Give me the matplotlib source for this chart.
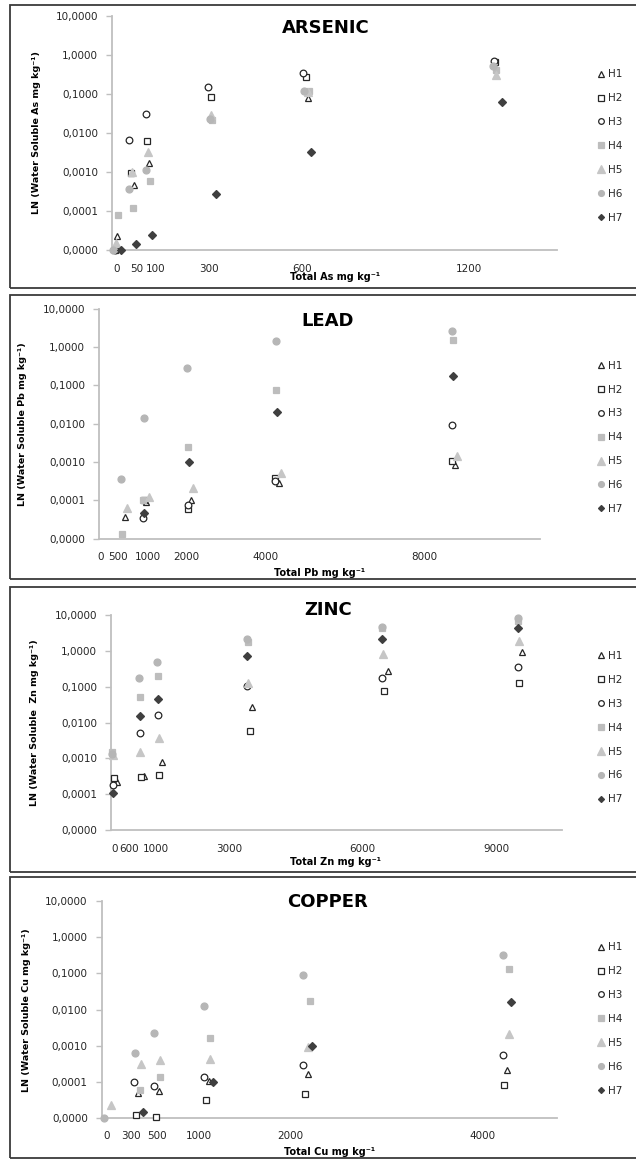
import numpy as np
import matplotlib.pyplot as plt
from matplotlib.patches import Rectangle

# figure size in pixels
W, H = 636, 1159
DPI = 100

SERIES = ["H1", "H2", "H3", "H4", "H5", "H6", "H7"]

# arsenic, one list per series H1..H7
AS_X = [
    [7, 60, 108, 303, 610, 1203],
    [0, 50, 102, 305, 603, 1200],
    [0, 45, 98, 294, 595, 1198],
    [9, 58, 110, 306, 613, 1203],
    [3, 55, 106, 305, 610, 1203],
    [-5, 46, 98, 300, 597, 1194],
    [18, 68, 118, 318, 619, 1221],
]
AS_Y = [
    [2.3e-5, 0.00047, 0.0017, 0.025, 0.078, 0.45],
    [1e-5, 0.00095, 0.0063, 0.085, 0.27, 0.67],
    [1e-5, 0.0066, 0.030, 0.155, 0.35, 0.70],
    [8e-5, 0.00012, 0.00059, 0.022, 0.12, 0.41],
    [1.5e-5, 0.001, 0.0033, 0.029, 0.11, 0.31],
    [1e-5, 0.00036, 0.0011, 0.023, 0.12, 0.53],
    [1e-5, 1.4e-5, 2.4e-5, 0.00028, 0.0033, 0.063],
]
AS_TICKS = [5, 70, 128, 296, 591, 1118]
AS_TICKLABELS = ["0", "50", "100", "300", "600", "1200"]

# lead
PB_X = [
    [526, 1000, 2027, 4038, 8069],
    [950, 1973, 3954, 7993],
    [945, 1958, 3954, 7993],
    [465, 945, 1973, 3985, 8023],
    [564, 1074, 2073, 4091, 8121],
    [434, 960, 1950, 3970, 8007],
    [968, 1981, 3992, 8030],
]
PB_Y = [
    [3.6e-5, 9e-5, 1.0e-4, 0.00028, 0.00085],
    [1e-4, 5.9e-5, 0.00038, 0.00105],
    [3.5e-5, 7.8e-5, 0.00032, 0.0091],
    [1.3e-5, 1e-4, 0.0024, 0.077, 1.5],
    [6.3e-5, 0.00012, 0.00021, 0.00051, 0.0014],
    [0.00036, 0.014, 0.28, 1.4, 2.67],
    [4.7e-5, 0.001, 0.020, 0.175],
]
PB_TICKS = [-30, 375, 1055, 1920, 3733, 7367]
PB_TICKLABELS = ["0", "500", "1000", "2000", "4000", "8000"]

# zinc
ZN_X = [
    [93, 700, 1107, 3107, 6116, 9107],
    [40, 633, 1040, 3049, 6033, 9040],
    [5, 611, 1011, 2993, 5996, 9004],
    [0, 611, 1018, 3011, 5982, 9011],
    [5, 618, 1027, 3011, 6004, 9033],
    [0, 596, 996, 2993, 5982, 9011],
    [5, 611, 1011, 2993, 5982, 9011],
]
ZN_Y = [
    [0.00022, 0.00032, 0.00078, 0.0275, 0.28, 0.94],
    [0.00029, 0.00031, 0.00034, 0.0057, 0.077, 0.13],
    [0.00018, 0.0052, 0.016, 0.107, 0.18, 0.35],
    [0.0015, 0.053, 0.20, 1.8, 4.3, 7.0],
    [0.0012, 0.00155, 0.0038, 0.13, 0.81, 1.87],
    [0.0013, 0.175, 0.48, 2.14, 4.7, 8.1],
    [0.00011, 0.015, 0.046, 0.72, 2.2, 4.4],
]
ZN_TICKS = [56, 360, 960, 2589, 5551, 8529]
ZN_TICKLABELS = ["0", "600", "1000", "3000", "6000", "9000"]

# copper
CU_X = [
    [350, 560, 1057, 2050, 4037],
    [327, 527, 1027, 2020, 4007],
    [313, 507, 1010, 2003, 3997],
    [370, 573, 1070, 2070, 4057],
    [77, 377, 573, 1070, 2053, 4060],
    [13, 317, 513, 1013, 2003, 3997],
    [403, 1103, 2093, 4083],
]
CU_Y = [
    [5e-5, 5.5e-5, 0.000107, 0.00017, 0.00021],
    [1.2e-5, 1.1e-5, 3.2e-5, 4.7e-5, 8.1e-5],
    [0.0001, 7.6e-5, 0.000135, 0.00029, 0.00056],
    [6e-5, 0.00014, 0.0017, 0.0178, 0.133],
    [2.3e-5, 0.00031, 0.00041, 0.00044, 0.00093, 0.0021],
    [1e-5, 0.00064, 0.0022, 0.013, 0.091, 0.32],
    [1.5e-5, 0.0001, 0.00098, 0.016],
]
CU_TICKS = [37, 277, 537, 957, 1877, 3800]
CU_TICKLABELS = ["0", "300", "500", "1000", "2000", "4000"]

Y_TICKS = [1e-5, 1e-4, 1e-3, 1e-2, 1e-1, 1, 10]

# marker style per series: marker, face, edge, size
STYLES = [
    ("^", "white", "#262626", 5.0),
    ("s", "white", "#262626", 4.6),
    ("o", "white", "#262626", 4.8),
    ("s", "#bdbdbd", "#bdbdbd", 4.4),
    ("^", "#c6c6c6", "#c6c6c6", 6.0),
    ("o", "#b6b6b6", "#b6b6b6", 5.0),
    ("D", "#3f3f3f", "#3f3f3f", 3.6),
]

AXIS_GRAY = "#bfbfbf"
BORDER = "#3a3a3a"
TICK_FS = 7.5
LABEL_FS = 6.8
TITLE_FS = 13
LEG_FS = 7.5

plt.rcParams["font.family"] = "DejaVu Sans"


def fx(px):
    return px / W


def fy(py):
    return 1 - py / H


def ycomma(v, pos):
    return f"{v:.4f}".replace(".", ",")


def draw_panel(fig, p):
    l, r, t, b = p["box"]
    ax = fig.add_axes([fx(l), fy(b), fx(r) - fx(l), (b - t) / H])
    for i, (xs, ys) in enumerate(zip(p["x"], p["y"])):
        m, fc, ec, ms = STYLES[i]
        ax.plot(xs, ys, linestyle="none", marker=m, markerfacecolor=fc,
                markeredgecolor=ec, markersize=ms, markeredgewidth=0.9,
                clip_on=False, zorder=3 + i, label=SERIES[i])

    ax.set_yscale("log")
    ax.set_ylim(1e-5, 10)
    ax.set_xlim(*p["xlim"])
    ax.set_yticks(Y_TICKS)
    ax.yaxis.set_major_formatter(plt.FuncFormatter(ycomma))
    ax.yaxis.set_minor_locator(plt.NullLocator())
    ax.set_xticks(p["ticks"])
    ax.set_xticklabels(p["ticklabels"])
    ax.tick_params(axis="y", length=4, width=1.0, color=AXIS_GRAY, pad=6,
                   labelsize=TICK_FS, labelcolor="#262626")
    ax.tick_params(axis="x", length=0, pad=p["xpad"], labelsize=TICK_FS,
                   labelcolor="#262626")

    for s in ("top", "right"):
        ax.spines[s].set_visible(False)
    for s in ("left", "bottom"):
        ax.spines[s].set_color(AXIS_GRAY)
        ax.spines[s].set_linewidth(1.3)
    ax.patch.set_alpha(0)

    ax.set_ylabel(p["ylabel"], fontsize=LABEL_FS, fontweight="bold")
    ax.yaxis.set_label_coords(fx(p["ylab_x"]), fy((t + b) / 2),
                              transform=fig.transFigure)
    ax.set_xlabel(p["xlabel"], fontsize=LABEL_FS + 0.2, fontweight="bold")
    ax.xaxis.set_label_coords(fx(p["xlab"][0]), fy(p["xlab"][1]),
                              transform=fig.transFigure)
    ax.xaxis.label.set_va("center")

    fig.text(fx(p["title"][0]), fy(p["title"][1]), p["name"], fontsize=TITLE_FS,
             fontweight="bold", ha="center", va="center", color="black")

    ax.legend(loc="center left", bbox_to_anchor=(fx(597), fy(p["leg_y"])),
              bbox_transform=fig.transFigure, frameon=False, fontsize=LEG_FS,
              handlelength=0.7, handletextpad=0.35, labelspacing=1.33,
              markerscale=0.85, borderpad=0, borderaxespad=0,
              labelcolor="#262626")

    # frame round the whole panel
    y0, y1 = p["frame"]
    fig.patches.append(Rectangle((fx(10), fy(y1)), fx(640) - fx(10), (y1 - y0) / H,
                                 transform=fig.transFigure, fill=False,
                                 edgecolor=BORDER, linewidth=1.3))
    return ax


panels = [
    dict(name="ARSENIC", x=AS_X, y=AS_Y, box=(112, 557, 16, 250), xlim=(-9, 1396),
         ticks=AS_TICKS, ticklabels=AS_TICKLABELS, xpad=10,
         ylabel="LN (Water Soluble As mg kg⁻¹)", ylab_x=41,
         xlabel="Total As mg kg⁻¹", xlab=(335, 277), title=(326, 28),
         leg_y=146, frame=(4.7, 288.3)),
    dict(name="LEAD", x=PB_X, y=PB_Y, box=(99, 540, 308.7, 538.7), xlim=(-70, 10010),
         ticks=PB_TICKS, ticklabels=PB_TICKLABELS, xpad=9.5,
         ylabel="LN (Water Soluble Pb mg kg⁻¹)", ylab_x=27,
         xlabel="Total Pb mg kg⁻¹", xlab=(320, 573), title=(328, 321),
         leg_y=437.3, frame=(294.7, 579)),
    dict(name="ZINC", x=ZN_X, y=ZN_Y, box=(111, 561.7, 615, 830), xlim=(-33, 9982),
         ticks=ZN_TICKS, ticklabels=ZN_TICKLABELS, xpad=10,
         ylabel="LN (Water Soluble  Zn mg kg⁻¹)", ylab_x=39,
         xlabel="Total Zn mg kg⁻¹", xlab=(336, 862), title=(328, 610),
         leg_y=727.7, frame=(586.7, 871.7)),
    dict(name="COPPER", x=CU_X, y=CU_Y, box=(101.7, 557.3, 901, 1118.3), xlim=(-13, 4543),
         ticks=CU_TICKS, ticklabels=CU_TICKLABELS, xpad=9,
         ylabel="LN (Water Soluble Cu mg kg⁻¹)", ylab_x=30.7,
         xlabel="Total Cu mg kg⁻¹", xlab=(330, 1152), title=(328, 902),
         leg_y=1019, frame=(876.7, 1157.5)),
]

fig = plt.figure(figsize=(W / DPI, H / DPI), dpi=DPI)
fig.patch.set_facecolor("white")
for p in panels:
    draw_panel(fig, p)

fig.savefig("out.png", dpi=DPI)
